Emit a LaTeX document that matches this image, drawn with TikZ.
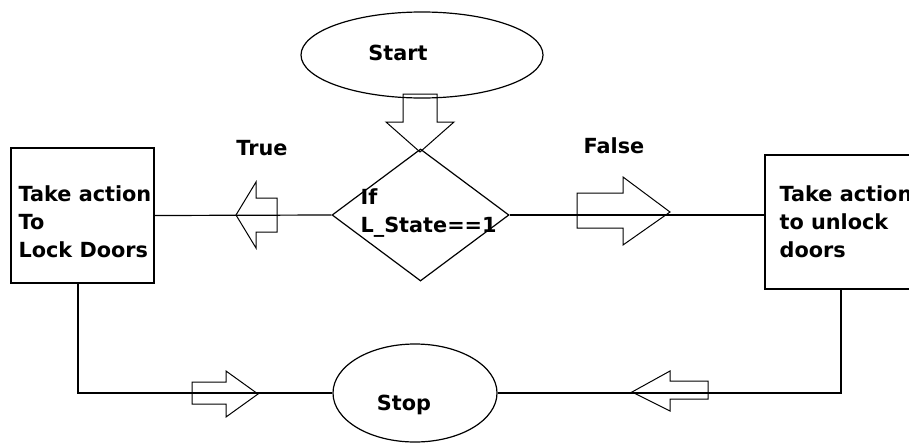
\documentclass[tikz,border=0pt]{standalone}
\usepackage{fontspec}
\setmainfont{DejaVu Sans}
\usetikzlibrary{shapes.geometric}
\begin{document}
\begin{tikzpicture}[x=1pt,y=-1pt,line width=1.2pt,
  lbl/.style={font=\bfseries\fontsize{20.8}{28}\selectfont,inner sep=0pt,align=left},
  oval/.style={draw,ellipse,inner sep=0pt},
  boxnode/.style={draw,rectangle,inner sep=0pt},
  blk/.style={line width=1pt,line join=miter}]
\useasboundingbox (0,0) rectangle (909,442);
% shapes
\node[oval,minimum width=242pt,minimum height=86pt] (start) at (422,55) {};
\node[lbl,anchor=center] (starttxt) at (398,53) {Start};
\node[draw,diamond,inner sep=0pt,minimum width=177pt,minimum height=132pt] (dia) at (420.5,215) {};
\node[lbl,anchor=west] (diatxt) at (360,213) {If\\L\_State==1};
\node[boxnode,minimum width=143pt,minimum height=135pt] (lbox) at (82.5,215.5) {};
\node[lbl,anchor=west] (lboxtxt) at (18,222) {Take action\\To\\Lock Doors};
\node[boxnode,minimum width=152pt,minimum height=134pt] (rbox) at (841,222) {};
\node[lbl,anchor=west] (rboxtxt) at (779,222) {Take action\\to unlock\\doors};
\node[oval,minimum width=164pt,minimum height=98pt] (stop) at (415,393) {};
\node[lbl,anchor=center] (stoptxt) at (404,405) {Stop};
\node[lbl,anchor=center] (truetxt) at (262,148) {True};
\node[lbl,anchor=center] (falsetxt) at (614,146) {False};
% connectors
\draw (lbox.east) -- (dia.west);
\draw (dia.east) -- (dia.east -| rbox.west);
\draw ([xshift=-4.5pt]lbox.south) |- (stop.west);
\draw (rbox.south) |- (stop.east);
% block arrows
\draw[blk] (403,94) -- (437,94) -- (437,122) -- (454,122) -- (420,152) -- (386,122) -- (403,122) -- cycle;
\draw[blk] (236,215) -- (256,182) -- (256,198) -- (277,198) -- (277,232) -- (256,232) -- (256,248) -- cycle;
\draw[blk] (577,193) -- (623,193) -- (623,177) -- (670,212) -- (623,245) -- (623,228) -- (577,228) -- cycle;
\draw[blk] (192,382) -- (226,382) -- (226,371) -- (258,394) -- (226,417) -- (226,404) -- (192,404) -- cycle;
\draw[blk] (632,392) -- (670,371) -- (670,381) -- (708,381) -- (708,399) -- (670,399) -- (670,411) -- cycle;
\end{tikzpicture}
\end{document}
